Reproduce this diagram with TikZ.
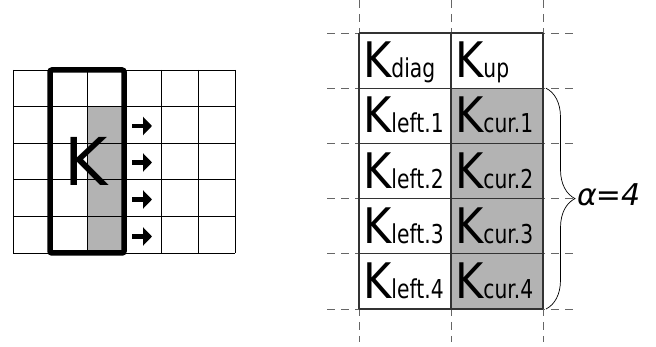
\documentclass[tikz,border=0pt]{standalone}
\usepackage{fontspec}
\setmainfont{DejaVu Sans}
\newfontfamily\cellfont[FakeStretch=0.88]{DejaVu Sans}
\newfontfamily\subfont[FakeStretch=0.78]{DejaVu Sans}
\usetikzlibrary{decorations.pathreplacing,arrows.meta}

\definecolor{cellgray}{HTML}{B3B3B3}
\definecolor{tableline}{HTML}{333333}
\definecolor{guideline}{HTML}{666666}

% a block label: big K followed by its condensed index
\newcommand\Kcell[1]{{\cellfont\fontsize{49}{49}\selectfont K}{\subfont\fontsize{26}{26}\selectfont #1}}

\tikzset{
  gridline/.style={black, line width=0.8pt},
  blockframe/.style={draw=black, line width=5.5pt, rounded corners=2pt,
    minimum width=74pt, minimum height=183pt, inner sep=0pt},
  shiftarrow/.style={line width=4.5pt, -{Triangle[length=9pt,width=18pt]}},
  guide/.style={guideline, line width=0.8pt, dash pattern=on 8pt off 6pt},
  tablerule/.style={tableline, line width=1.2pt},
  celltext/.style={anchor=base west, inner sep=0pt},
  bracket/.style={decorate, decoration={brace, amplitude=29pt}, line width=0.7pt},
}

\begin{document}
\begin{tikzpicture}[x=1pt,y=-1pt]
\useasboundingbox (0,0) rectangle (656,347);

% ---------- left: matrix with the current block ----------
\fill[cellgray] (87,106.6) rectangle (124,253);
\foreach \x in {13,50,87,124,161,198,235}
  \draw[gridline] (\x,70) -- (\x,253);
\foreach \y in {70,106.6,143.2,179.8,216.4,253}
  \draw[gridline] (13,\y) -- (235,\y);
\node[blockframe] (frame) at (87,161.5) {};
\node[inner sep=0pt, font=\fontsize{66}{66}\selectfont] (bigK) at (86,161) {K};

% shift arrows to the next column
\foreach \i/\y in {1/126,2/162.5,3/199.5,4/236.5} {
  \coordinate (s\i) at (132,\y);
  \coordinate (e\i) at (152,\y);
  \draw[shiftarrow] (s\i) -- (e\i);
}

% ---------- right: the block with its neighbours ----------
\foreach \y in {33,88.2,143.4,198.6,253.8,309}
  \draw[guide] (327,\y) -- (575,\y);
\foreach \x in {359,451,543}
  \draw[guide] (\x,0) -- (\x,342);

\fill[cellgray] (451,88.2) rectangle (543,309);
\foreach \y in {33,88.2,143.4,198.6,253.8,309}
  \draw[tablerule] (359,\y) -- (543,\y);
\foreach \x in {359,451,543}
  \draw[tablerule] (\x,33) -- (\x,309);

\node[celltext] (kdiag) at (363,77.7) {\Kcell{diag}};
\node[celltext] (kup)   at (455,77.7) {\Kcell{up}};
\foreach \i/\y in {1/132.9,2/188.1,3/243.3,4/298.5} {
  \node[celltext] (kleft\i) at (363,\y) {\Kcell{left.\i}};
  \node[celltext] (kcur\i)  at (455,\y) {\Kcell{cur.\i}};
}

% brace over the four current rows
\coordinate (btop) at (546,88.2);
\coordinate (bbot) at (546,309);
\draw[bracket] (btop) -- (bbot);
\node[anchor=west, inner sep=0pt, font=\fontsize{30}{30}\selectfont\itshape] (alpha) at (577,195) {α\kern-1pt=4};

\end{tikzpicture}
\end{document}
